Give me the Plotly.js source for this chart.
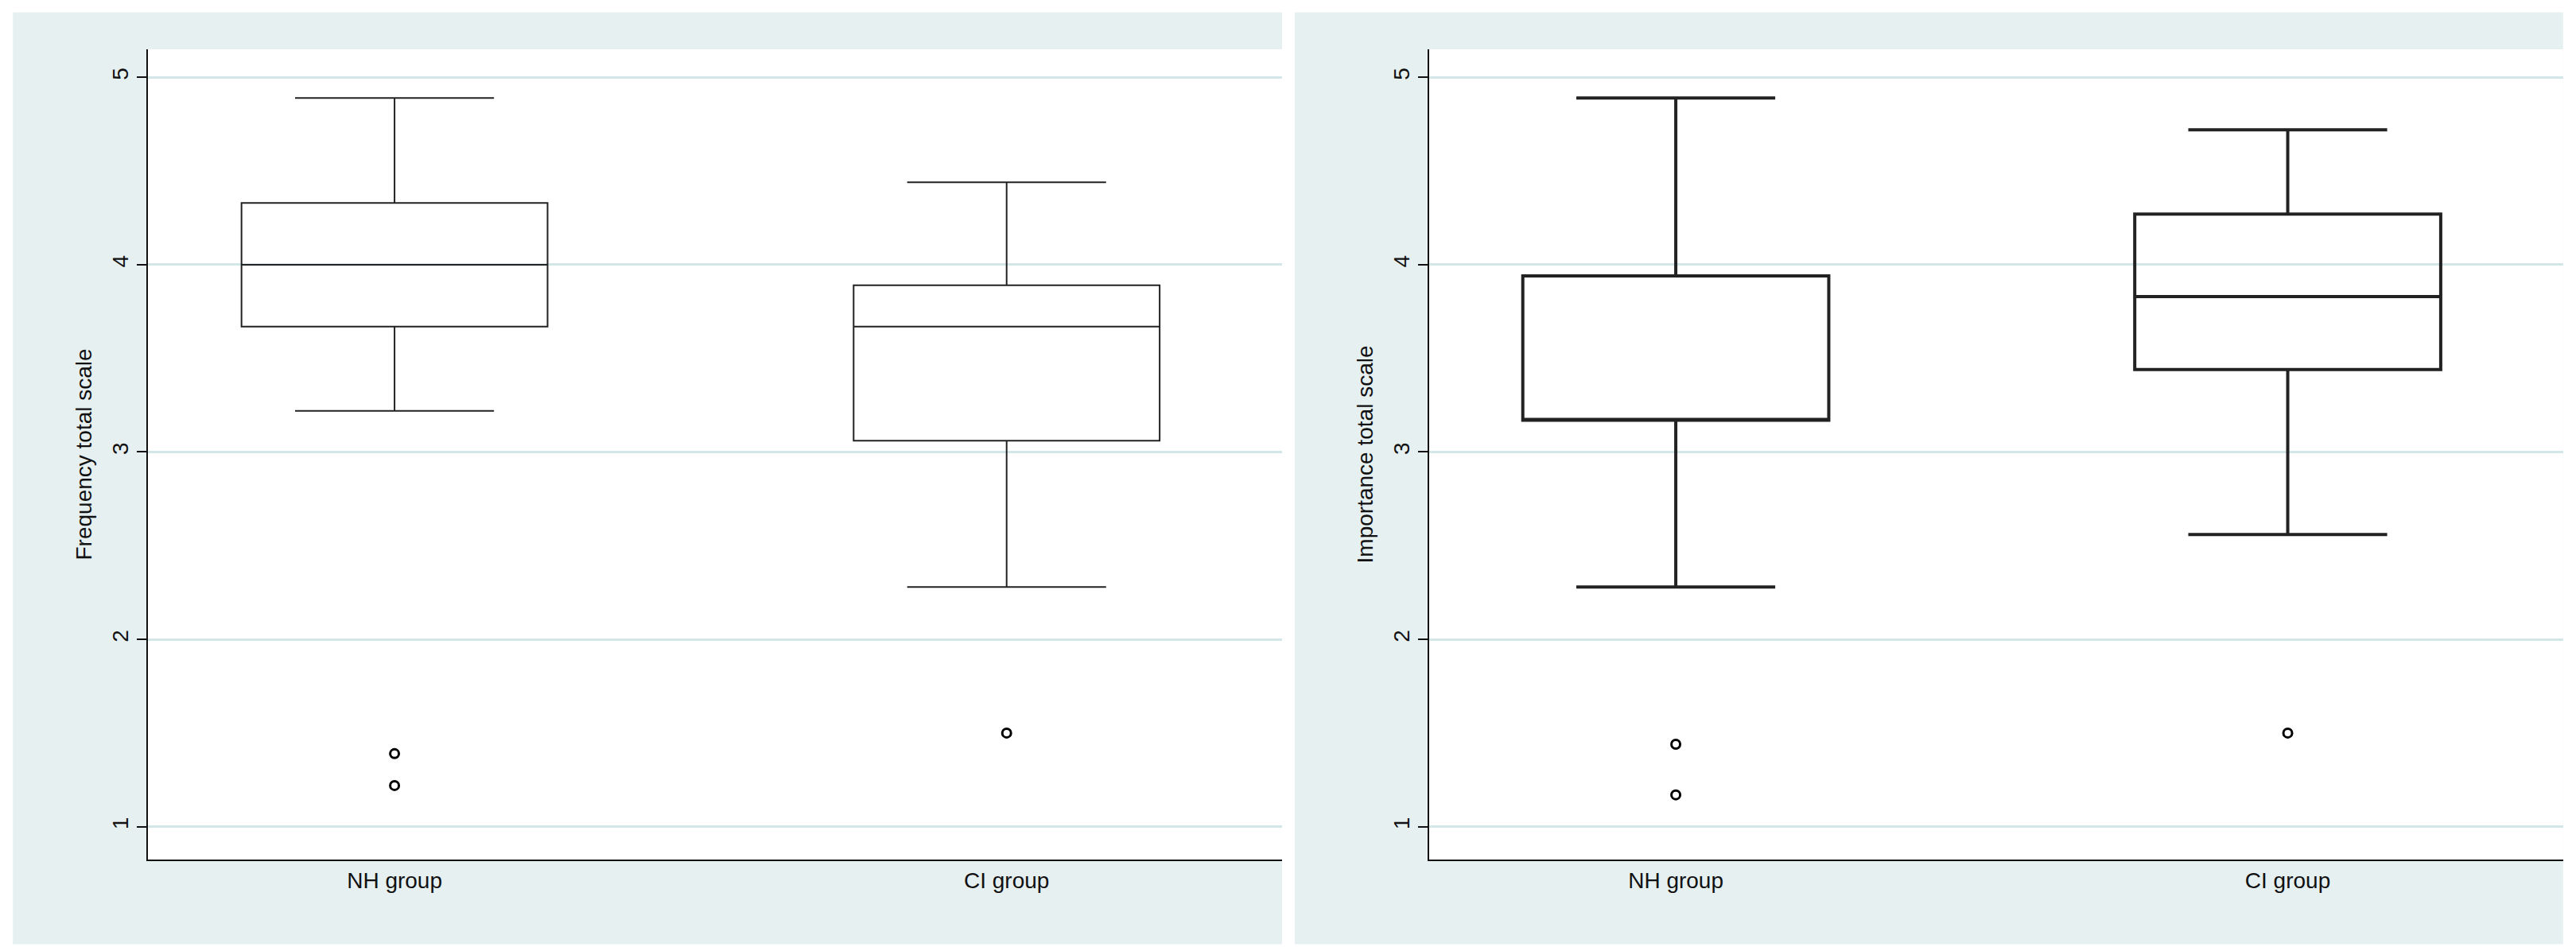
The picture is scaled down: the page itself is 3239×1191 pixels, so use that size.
<!DOCTYPE html>
<html>
<head>
<script src="https://cdn.plot.ly/plotly-3.0.1.min.js"></script>
<style>body{margin:0}#chart{width:3239px;height:1191px}</style>
</head>
<body>
<div id="chart"></div>
<script>
var groups = ['NH group', 'CI group'];

// frequency total scale
var freqLower = [3.22, 2.28];
var freqQ1 = [3.67, 3.06];
var freqMedian = [4.0, 3.67];
var freqQ3 = [4.33, 3.89];
var freqUpper = [4.89, 4.44];
var freqOutX = ['NH group', 'NH group', 'CI group'];
var freqOutY = [1.39, 1.22, 1.5];

// importance total scale
var impLower = [2.28, 2.56];
var impQ1 = [3.17, 3.44];
var impMedian = [3.17, 3.83];
var impQ3 = [3.94, 4.27];
var impUpper = [4.89, 4.72];
var impOutX = ['NH group', 'NH group', 'CI group'];
var impOutY = [1.44, 1.17, 1.5];

function boxTrace(lo, q1, med, q3, up, xa, ya, lw) {
  return {
    type: 'box', x: groups, lowerfence: lo, q1: q1, median: med, q3: q3, upperfence: up,
    xaxis: xa, yaxis: ya, width: 0.5, whiskerwidth: 0.65,
    fillcolor: 'rgba(0,0,0,0)', line: {color: '#222', width: lw},
    boxpoints: false, hoverinfo: 'y', showlegend: false
  };
}
function outTrace(x, y, xa, ya) {
  return {
    type: 'scatter', mode: 'markers', x: x, y: y, xaxis: xa, yaxis: ya,
    marker: {symbol: 'circle-open', size: 11, color: '#000', line: {width: 3}},
    showlegend: false
  };
}

var data = [
  boxTrace(freqLower, freqQ1, freqMedian, freqQ3, freqUpper, 'x', 'y', 2),
  outTrace(freqOutX, freqOutY, 'x', 'y'),
  boxTrace(impLower, impQ1, impMedian, impQ3, impUpper, 'x2', 'y2', 4),
  outTrace(impOutX, impOutY, 'x2', 'y2')
];

var font = {family: 'Liberation Sans, Arial, sans-serif', size: 28, color: '#111'};
function xax(dom, anchor) {
  return {domain: dom, anchor: anchor, range: [-0.403, 1.45], showgrid: false, zeroline: false,
    showline: true, linecolor: '#111', linewidth: 2, ticks: '', tickfont: font,
    categoryorder: 'array', categoryarray: groups};
}
function yax(anchor, title) {
  return {domain: [0.0924, 0.948], anchor: anchor, range: [0.825, 5.15], tickvals: [1, 2, 3, 4, 5],
    tickangle: -90, ticks: 'outside', ticklen: 12, tickwidth: 2, tickcolor: '#111',
    showline: true, linecolor: '#111', linewidth: 2, zeroline: false,
    gridcolor: '#d3e6e8', gridwidth: 3, tickfont: font,
    title: {text: title, font: font, standoff: 12}};
}

function rect(x0, x1, y0, y1, c) {
  return {type: 'rect', xref: 'paper', yref: 'paper', x0: x0, x1: x1, y0: y0, y1: y1,
    fillcolor: c, line: {width: 0}, layer: 'below'};
}

var layout = {
  width: 3239, height: 1191, paper_bgcolor: '#ffffff', plot_bgcolor: '#ffffff',
  margin: {l: 0, r: 0, t: 0, b: 0},
  xaxis: xax([0.0574, 0.4977], 'y'),
  yaxis: yax('x', 'Frequency total scale'),
  xaxis2: xax([0.5548, 0.995], 'y2'),
  yaxis2: yax('x2', 'Importance total scale'),
  shapes: [
    rect(0.005, 0.4977, 0.003, 0.987, '#e6f0f1'),
    rect(0.5026, 0.995, 0.003, 0.987, '#e6f0f1'),
    rect(0.0574, 0.4977, 0.0924, 0.948, '#ffffff'),
    rect(0.5548, 0.995, 0.0924, 0.948, '#ffffff')
  ]
};

Plotly.newPlot('chart', data, layout, {staticPlot: true});
</script>
</body>
</html>
